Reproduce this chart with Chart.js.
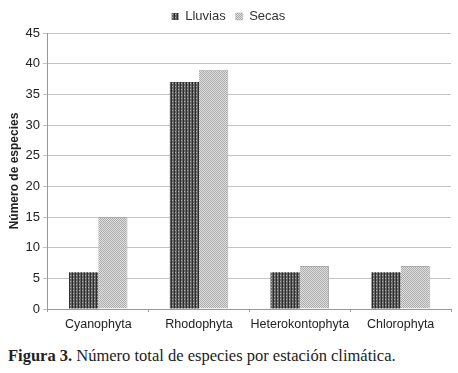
<!DOCTYPE html>
<html>
<head>
<meta charset="utf-8">
<script src="https://cdn.jsdelivr.net/npm/chart.js@4"></script>
<style>
  body { margin: 0; background: #fff; }
  #wrap { position: relative; width: 458px; height: 337px; }
  #caption { font-family: "Liberation Serif", serif; font-size: 16.5px; color: #222; margin: 9px 0 0 8px; }
</style>
</head>
<body>
<div id="wrap"><canvas id="chart"></canvas></div>
<div id="caption"><b>Figura 3.</b> Número total de especies por estación climática.</div>
<script>
var categories = ['Cyanophyta', 'Rhodophyta', 'Heterokontophyta', 'Chlorophyta'];
var lluvias = [6, 37, 6, 6];
var secas = [15, 39, 7, 7];
var yTicks = [0, 5, 10, 15, 20, 25, 30, 35, 40, 45];

function makePattern(kind) {
  var c = document.createElement('canvas');
  var ctx = c.getContext('2d');
  if (kind === 'dark') {
    c.width = 3; c.height = 3;
    ctx.fillStyle = '#666666';
    ctx.fillRect(0, 0, 3, 3);
    ctx.fillStyle = '#2c2c2c';
    ctx.fillRect(0, 0, 1, 3);
    ctx.fillStyle = '#b4b4b4';
    ctx.fillRect(1, 2, 1, 1);
  } else {
    c.width = 2; c.height = 2;
    ctx.fillStyle = '#e0e0e0';
    ctx.fillRect(0, 0, 2, 2);
    ctx.fillStyle = '#ababab';
    ctx.fillRect(0, 0, 1, 1);
    ctx.fillRect(1, 1, 1, 1);
  }
  return ctx.createPattern(c, 'repeat');
}

var chart = new Chart(document.getElementById('chart'), {
  type: 'bar',
  data: {
    labels: categories,
    datasets: [{
      label: 'Lluvias',
      data: lluvias,
      backgroundColor: makePattern('dark'),
      categoryPercentage: 0.58,
      barPercentage: 1
    }, {
      label: 'Secas',
      data: secas,
      backgroundColor: makePattern('light'),
      borderColor: '#aaa',
      borderWidth: { top: 1, left: 0, right: 1, bottom: 0 },
      categoryPercentage: 0.58,
      barPercentage: 1
    }]
  },
  options: {
    responsive: true,
    maintainAspectRatio: false,
    animation: false,
    layout: { padding: { left: 6, right: 7, top: 0, bottom: 0 } },
    plugins: {
      legend: {
        position: 'top',
        labels: {
          boxWidth: 7,
          boxHeight: 7,
          padding: 10,
          color: '#333',
          font: { family: 'Liberation Sans', size: 13 }
        }
      },
      tooltip: { enabled: false }
    },
    scales: {
      x: {
        grid: { display: true, drawOnChartArea: false, color: '#999', tickLength: 3, offset: true },
        border: { color: '#999' },
        ticks: {
          color: '#222',
          font: { family: 'Liberation Sans', size: 12.5 },
          padding: 5,
          maxRotation: 0,
          minRotation: 0,
          autoSkip: false
        }
      },
      y: {
        min: 0,
        max: 45,
        afterBuildTicks: function (axis) {
          axis.ticks = yTicks.map(function (v) { return { value: v }; });
        },
        grid: { color: '#c4c4c4', tickLength: 5 },
        border: { color: '#999' },
        ticks: { color: '#222', font: { family: 'Liberation Sans', size: 13 }, padding: 3 },
        title: {
          display: true,
          text: 'Número de especies',
          color: '#222',
          font: { family: 'Liberation Sans', size: 12, weight: 'bold' },
          padding: 1
        }
      }
    }
  }
});
</script>
</body>
</html>
